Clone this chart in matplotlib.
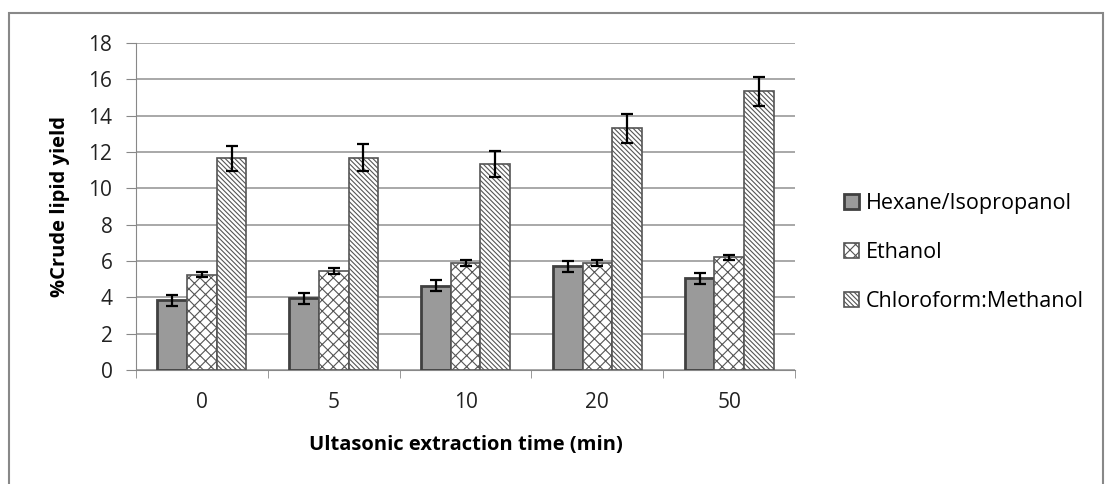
import matplotlib
matplotlib.use('Agg')
import matplotlib.pyplot as plt
import numpy as np
from matplotlib.patches import Rectangle

plt.rcParams['font.family'] = ['Open Sans', 'DejaVu Sans']
plt.rcParams['hatch.linewidth'] = 0.8

# Dados
tempos = ['0', '5', '10', '20', '50']
hexano = [3.85, 3.95, 4.65, 5.7, 5.05]
hexano_err = [0.3, 0.3, 0.3, 0.3, 0.3]
etanol = [5.25, 5.45, 5.9, 5.9, 6.2]
etanol_err = [0.15, 0.15, 0.15, 0.15, 0.15]
cloro = [11.65, 11.7, 11.35, 13.3, 15.35]
cloro_err = [0.7, 0.75, 0.7, 0.8, 0.8]

fig = plt.figure(figsize=(11.12, 4.84), dpi=100)
ax = fig.add_axes([0.1223, 0.2355, 0.5927, 0.6755])

# moldura externa
fig.patches.append(Rectangle((0.008, -0.01), 0.984, 0.984, transform=fig.transFigure,
                             fill=False, edgecolor='#888888', linewidth=1.5))

x = np.arange(len(tempos))
w = 0.225
borda = '#404040'
err_kw = dict(ecolor='black', capsize=4, elinewidth=1.6, capthick=1.6)

ax.bar(x - w, hexano, w, yerr=hexano_err, color='#9a9a9a', edgecolor=borda,
       linewidth=2, label='Hexane/Isopropanol', error_kw=err_kw, zorder=3)
ax.bar(x, etanol, w, yerr=etanol_err, color='white', edgecolor='#555555', hatch='xxx',
       linewidth=1.2, label='Ethanol', error_kw=err_kw, zorder=3)
ax.bar(x + w, cloro, w, yerr=cloro_err, color='white', edgecolor='#555555',
       hatch='\\\\\\\\\\\\\\', linewidth=1.2, label='Chloroform:Methanol',
       error_kw=err_kw, zorder=3)

ax.set_xlim(-0.5, len(tempos) - 0.5)
ax.set_ylim(0, 18)
ax.set_yticks(np.arange(0, 19, 2))
ax.set_xticks(x)
ax.set_xticklabels(tempos)
ax.set_xticks(np.arange(-0.5, len(tempos), 1), minor=True)
ax.tick_params(axis='x', which='major', length=0, labelsize=15, pad=16, colors='#222222')
ax.tick_params(axis='x', which='minor', length=6, color='#888888')
ax.tick_params(axis='y', length=7, color='#888888', labelsize=15, pad=10, colors='#222222')
ax.yaxis.grid(True, color='#999999', linewidth=1.2, zorder=0)
ax.set_axisbelow(True)

for lado in ['top', 'right']:
    ax.spines[lado].set_visible(False)
ax.spines['left'].set_color('#888888')
ax.spines['bottom'].set_color('#888888')

ax.set_ylabel('%Crude lipid yield', fontsize=14.5, fontweight='bold')
ax.set_xlabel('Ultasonic extraction time (min)', fontsize=14.5, fontweight='bold')
ax.yaxis.set_label_coords(-0.1, 0.5)
ax.xaxis.set_label_coords(0.5, -0.2)

ax.legend(loc='center left', bbox_to_anchor=(1.045, 0.358), frameon=False, fontsize=15.5,
          handlelength=0.7, handleheight=0.7, handletextpad=0.3, labelspacing=1.3)

plt.savefig('out.png', dpi=100)
